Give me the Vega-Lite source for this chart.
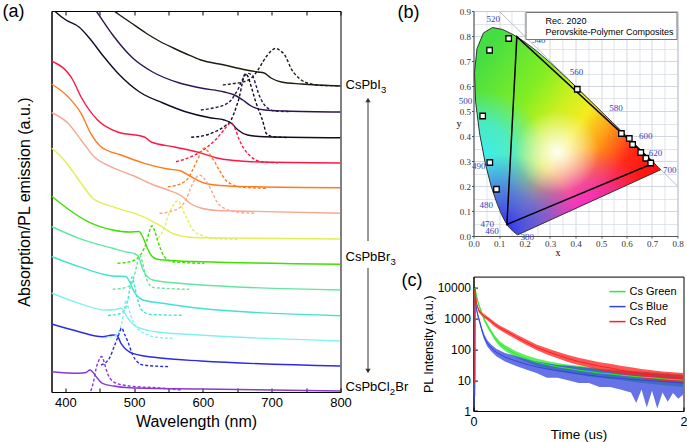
{
"$schema": "https://vega.github.io/schema/vega-lite/v6.json",
"padding": {"left": 1.5, "top": 2, "right": 0, "bottom": 0},
"background": "white",
"config": {
  "font": "Liberation Sans",
  "view": {"stroke": null},
  "axis": {"labelFont": "Liberation Sans", "titleFont": "Liberation Sans", "labelColor": "#000", "titleColor": "#000", "domainColor": "#000", "tickColor": "#000", "titleFontWeight": "normal", "grid": false, "labelOverlap": false, "labelFlush": false},
  "legend": {"labelFont": "Liberation Sans", "labelColor": "#000"},
  "text": {"font": "Liberation Sans", "color": "#000"}
},
"datasets": {
"abs": [
{"s":"C1","w":462,"v":386},{"s":"C1","w":471,"v":381},{"s":"C1","w":496,"v":369},{"s":"C1","w":517,"v":359},{"s":"C1","w":539,"v":350},{"s":"C1","w":557,"v":344},{"s":"C1","w":576,"v":338},{"s":"C1","w":597,"v":332},{"s":"C1","w":631,"v":327},{"s":"C1","w":663,"v":322},{"s":"C1","w":680,"v":320},{"s":"C1","w":689,"v":319},{"s":"C1","w":699,"v":314},{"s":"C1","w":714,"v":310},{"s":"C1","w":743,"v":308},{"s":"C1","w":800,"v":306},
{"s":"C2","w":438,"v":388},{"s":"C2","w":445,"v":381},{"s":"C2","w":469,"v":357},{"s":"C2","w":498,"v":334},{"s":"C2","w":527,"v":320},{"s":"C2","w":566,"v":309},{"s":"C2","w":597,"v":304},{"s":"C2","w":631,"v":300},{"s":"C2","w":646,"v":297},{"s":"C2","w":658,"v":292},{"s":"C2","w":670,"v":286},{"s":"C2","w":690,"v":282},{"s":"C2","w":720,"v":281},{"s":"C2","w":800,"v":280},
{"s":"C3","w":380,"v":384},{"s":"C3","w":386,"v":380},{"s":"C3","w":401,"v":372},{"s":"C3","w":420,"v":365},{"s":"C3","w":435,"v":354},{"s":"C3","w":454,"v":337},{"s":"C3","w":479,"v":317},{"s":"C3","w":508,"v":300},{"s":"C3","w":542,"v":289},{"s":"C3","w":576,"v":280},{"s":"C3","w":612,"v":274},{"s":"C3","w":631,"v":272},{"s":"C3","w":641,"v":269},{"s":"C3","w":651,"v":262},{"s":"C3","w":665,"v":257},{"s":"C3","w":690,"v":255.3},{"s":"C3","w":800,"v":254.3},
{"s":"C4","w":380,"v":331},{"s":"C4","w":411,"v":312},{"s":"C4","w":423,"v":295},{"s":"C4","w":447,"v":272},{"s":"C4","w":476,"v":260},{"s":"C4","w":515,"v":255},{"s":"C4","w":525,"v":250},{"s":"C4","w":559,"v":245},{"s":"C4","w":597,"v":239},{"s":"C4","w":620,"v":234},{"s":"C4","w":646,"v":231.5},{"s":"C4","w":670,"v":230.3},{"s":"C4","w":800,"v":229},
{"s":"C5","w":380,"v":308},{"s":"C5","w":404,"v":295.3},{"s":"C5","w":423,"v":278.7},{"s":"C5","w":437,"v":258.7},{"s":"C5","w":452,"v":245.3},{"s":"C5","w":481,"v":237},{"s":"C5","w":515,"v":228.7},{"s":"C5","w":549,"v":223},{"s":"C5","w":568,"v":221},{"s":"C5","w":583,"v":215.3},{"s":"C5","w":602,"v":209},{"s":"C5","w":625,"v":206.5},{"s":"C5","w":670,"v":205.3},{"s":"C5","w":800,"v":204.3},
{"s":"C6","w":380,"v":279.5},{"s":"C6","w":404,"v":268.7},{"s":"C6","w":423,"v":252},{"s":"C6","w":442,"v":235.3},{"s":"C6","w":466,"v":225.3},{"s":"C6","w":500,"v":216},{"s":"C6","w":525,"v":208},{"s":"C6","w":549,"v":202},{"s":"C6","w":568,"v":196.5},{"s":"C6","w":583,"v":188},{"s":"C6","w":597,"v":184},{"s":"C6","w":621,"v":181.5},{"s":"C6","w":646,"v":181},{"s":"C6","w":800,"v":178.7},
{"s":"C7","w":380,"v":244},{"s":"C7","w":396,"v":233.7},{"s":"C7","w":411,"v":220.3},{"s":"C7","w":425,"v":207},{"s":"C7","w":440,"v":193.7},{"s":"C7","w":469,"v":185.3},{"s":"C7","w":513,"v":175.3},{"s":"C7","w":532,"v":168.7},{"s":"C7","w":544,"v":163.7},{"s":"C7","w":556,"v":158.7},{"s":"C7","w":576,"v":155.3},{"s":"C7","w":597,"v":154.3},{"s":"C7","w":800,"v":153},
{"s":"C8","w":380,"v":196},{"s":"C8","w":406,"v":182},{"s":"C8","w":433,"v":170.3},{"s":"C8","w":469,"v":162},{"s":"C8","w":493,"v":160},{"s":"C8","w":507,"v":160.5},{"s":"C8","w":512,"v":156},{"s":"C8","w":518,"v":146},{"s":"C8","w":524,"v":137.5},{"s":"C8","w":534,"v":132.7},{"s":"C8","w":566,"v":131},{"s":"C8","w":597,"v":130.3},{"s":"C8","w":800,"v":127.7},
{"s":"C9","w":380,"v":165.5},{"s":"C9","w":420,"v":153.7},{"s":"C9","w":469,"v":143.7},{"s":"C9","w":491,"v":139.7},{"s":"C9","w":500,"v":138.5},{"s":"C9","w":506,"v":136},{"s":"C9","w":513,"v":122},{"s":"C9","w":527,"v":112},{"s":"C9","w":566,"v":108.7},{"s":"C9","w":583,"v":107.7},{"s":"C9","w":800,"v":102},
{"s":"C10","w":380,"v":135.5},{"s":"C10","w":420,"v":125.3},{"s":"C10","w":469,"v":116},{"s":"C10","w":488,"v":115.5},{"s":"C10","w":493,"v":111},{"s":"C10","w":500,"v":100.3},{"s":"C10","w":513,"v":92},{"s":"C10","w":542,"v":88.7},{"s":"C10","w":595,"v":83.7},{"s":"C10","w":800,"v":76.3},
{"s":"C11","w":380,"v":99},{"s":"C11","w":420,"v":88.7},{"s":"C11","w":459,"v":82},{"s":"C11","w":474,"v":82.5},{"s":"C11","w":481,"v":84},{"s":"C11","w":491,"v":73.7},{"s":"C11","w":503,"v":65.3},{"s":"C11","w":532,"v":60.3},{"s":"C11","w":595,"v":57},{"s":"C11","w":800,"v":51},
{"s":"C12","w":380,"v":68},{"s":"C12","w":420,"v":60.3},{"s":"C12","w":454,"v":55.3},{"s":"C12","w":469,"v":57},{"s":"C12","w":475,"v":56.5},{"s":"C12","w":481,"v":48.7},{"s":"C12","w":498,"v":38.7},{"s":"C12","w":542,"v":33.7},{"s":"C12","w":597,"v":31},{"s":"C12","w":800,"v":26},
{"s":"C13","w":380,"v":20.3},{"s":"C13","w":420,"v":18.7},{"s":"C13","w":430,"v":19.5},{"s":"C13","w":436,"v":22},{"s":"C13","w":441,"v":19},{"s":"C13","w":445,"v":15.3},{"s":"C13","w":454,"v":8.7},{"s":"C13","w":470,"v":6},{"s":"C13","w":493,"v":4.3},{"s":"C13","w":597,"v":3},{"s":"C13","w":800,"v":1}
],
"pl": [
{"s":"C1","w":629,"v":307},{"s":"C1","w":645,"v":308.5},{"s":"C1","w":660,"v":310.3},{"s":"C1","w":672,"v":315},{"s":"C1","w":680,"v":322},{"s":"C1","w":688,"v":331},{"s":"C1","w":694,"v":337},{"s":"C1","w":700,"v":341.5},{"s":"C1","w":706,"v":343.7},{"s":"C1","w":712,"v":341.5},{"s":"C1","w":719,"v":337},{"s":"C1","w":724,"v":330},{"s":"C1","w":728,"v":323.7},{"s":"C1","w":735,"v":317},{"s":"C1","w":743,"v":312},{"s":"C1","w":757,"v":308},{"s":"C1","w":775,"v":306.5},{"s":"C1","w":800,"v":306.3},
{"s":"C2","w":597,"v":282},{"s":"C2","w":615,"v":284},{"s":"C2","w":631,"v":287},{"s":"C2","w":640,"v":291},{"s":"C2","w":646,"v":297},{"s":"C2","w":652,"v":304},{"s":"C2","w":656,"v":310.3},{"s":"C2","w":661,"v":316.5},{"s":"C2","w":665,"v":318.7},{"s":"C2","w":669,"v":318},{"s":"C2","w":673,"v":315.3},{"s":"C2","w":677,"v":307},{"s":"C2","w":680,"v":300.3},{"s":"C2","w":685,"v":292},{"s":"C2","w":689.5,"v":287},{"s":"C2","w":696,"v":283},{"s":"C2","w":704,"v":281},{"s":"C2","w":728,"v":280.3},
{"s":"C3","w":583,"v":254.7},{"s":"C3","w":605,"v":257},{"s":"C3","w":620,"v":261},{"s":"C3","w":632,"v":266},{"s":"C3","w":641,"v":272},{"s":"C3","w":648,"v":284},{"s":"C3","w":653,"v":295},{"s":"C3","w":657,"v":308},{"s":"C3","w":661,"v":318},{"s":"C3","w":665,"v":316},{"s":"C3","w":670,"v":306},{"s":"C3","w":676,"v":292},{"s":"C3","w":681,"v":282},{"s":"C3","w":685,"v":275},{"s":"C3","w":689,"v":266},{"s":"C3","w":692,"v":258.7},{"s":"C3","w":700,"v":255.5},{"s":"C3","w":724,"v":254.5},
{"s":"C4","w":561,"v":230.3},{"s":"C4","w":583,"v":235.3},{"s":"C4","w":596,"v":240},{"s":"C4","w":607,"v":245.3},{"s":"C4","w":618,"v":252},{"s":"C4","w":626.5,"v":258.7},{"s":"C4","w":634,"v":265},{"s":"C4","w":641,"v":269.3},{"s":"C4","w":647,"v":263},{"s":"C4","w":653,"v":252},{"s":"C4","w":660,"v":243},{"s":"C4","w":670,"v":235.3},{"s":"C4","w":684.7,"v":230.3},{"s":"C4","w":709,"v":229.3},
{"s":"C5","w":549,"v":205.3},{"s":"C5","w":563,"v":207},{"s":"C5","w":573,"v":210.3},{"s":"C5","w":580,"v":215},{"s":"C5","w":585,"v":222},{"s":"C5","w":592,"v":232},{"s":"C5","w":597,"v":239},{"s":"C5","w":602,"v":244},{"s":"C5","w":607,"v":241},{"s":"C5","w":612,"v":235.5},{"s":"C5","w":617,"v":230.3},{"s":"C5","w":622,"v":224},{"s":"C5","w":626.5,"v":218.7},{"s":"C5","w":633,"v":212},{"s":"C5","w":641,"v":208},{"s":"C5","w":650,"v":205.5},{"s":"C5","w":660,"v":204.7},{"s":"C5","w":694,"v":203.7},
{"s":"C6","w":537,"v":178.7},{"s":"C6","w":555,"v":181},{"s":"C6","w":568,"v":185.3},{"s":"C6","w":576,"v":193},{"s":"C6","w":583,"v":205.3},{"s":"C6","w":589,"v":213},{"s":"C6","w":595,"v":217},{"s":"C6","w":601,"v":214},{"s":"C6","w":607,"v":208.7},{"s":"C6","w":614,"v":199},{"s":"C6","w":621.7,"v":188.7},{"s":"C6","w":628,"v":185},{"s":"C6","w":636,"v":182},{"s":"C6","w":650,"v":180},{"s":"C6","w":675,"v":178.7},
{"s":"C7","w":534.5,"v":153.7},{"s":"C7","w":541,"v":160},{"s":"C7","w":545,"v":166},{"s":"C7","w":549,"v":175.3},{"s":"C7","w":554,"v":183},{"s":"C7","w":559,"v":189},{"s":"C7","w":564,"v":191},{"s":"C7","w":569,"v":186},{"s":"C7","w":573,"v":178.7},{"s":"C7","w":578,"v":172},{"s":"C7","w":583,"v":165},{"s":"C7","w":588,"v":160.3},{"s":"C7","w":597,"v":157},{"s":"C7","w":612,"v":153.7},{"s":"C7","w":651,"v":152.7},
{"s":"C8","w":476,"v":128.7},{"s":"C8","w":495,"v":130.5},{"s":"C8","w":505,"v":134},{"s":"C8","w":512,"v":140},{"s":"C8","w":518,"v":150},{"s":"C8","w":522,"v":160},{"s":"C8","w":526,"v":166.3},{"s":"C8","w":530,"v":161},{"s":"C8","w":534,"v":152},{"s":"C8","w":538,"v":144},{"s":"C8","w":544,"v":135.3},{"s":"C8","w":556,"v":130.3},{"s":"C8","w":602,"v":128.7},
{"s":"C9","w":469,"v":102.7},{"s":"C9","w":488,"v":104.5},{"s":"C9","w":496,"v":108},{"s":"C9","w":501,"v":118},{"s":"C9","w":505,"v":130},{"s":"C9","w":508,"v":137},{"s":"C9","w":512,"v":130},{"s":"C9","w":516,"v":118},{"s":"C9","w":520,"v":110},{"s":"C9","w":528,"v":104.5},{"s":"C9","w":580,"v":102.7},
{"s":"C10","w":462,"v":76.5},{"s":"C10","w":478,"v":78},{"s":"C10","w":486,"v":82},{"s":"C10","w":491,"v":92},{"s":"C10","w":494,"v":104},{"s":"C10","w":497,"v":115},{"s":"C10","w":500,"v":108},{"s":"C10","w":504,"v":96},{"s":"C10","w":508,"v":86},{"s":"C10","w":514,"v":80},{"s":"C10","w":525,"v":77.5},{"s":"C10","w":571,"v":76.7},
{"s":"C11","w":457,"v":54.3},{"s":"C11","w":472,"v":56},{"s":"C11","w":479,"v":62},{"s":"C11","w":483,"v":72},{"s":"C11","w":486,"v":84},{"s":"C11","w":488,"v":92},{"s":"C11","w":491,"v":86},{"s":"C11","w":495,"v":77},{"s":"C11","w":500,"v":68.7},{"s":"C11","w":507,"v":62},{"s":"C11","w":515,"v":58.7},{"s":"C11","w":530,"v":55},{"s":"C11","w":556,"v":53.7},
{"s":"C12","w":452,"v":27},{"s":"C12","w":464,"v":33.7},{"s":"C12","w":471,"v":45.3},{"s":"C12","w":477,"v":56},{"s":"C12","w":482,"v":64},{"s":"C12","w":486,"v":58},{"s":"C12","w":491,"v":50.3},{"s":"C12","w":498,"v":37},{"s":"C12","w":505,"v":30},{"s":"C12","w":513,"v":27},{"s":"C12","w":551,"v":25.3},
{"s":"C13","w":437,"v":1},{"s":"C13","w":441,"v":10},{"s":"C13","w":445,"v":24},{"s":"C13","w":449,"v":32},{"s":"C13","w":453,"v":35.5},{"s":"C13","w":456,"v":31},{"s":"C13","w":459,"v":23.7},{"s":"C13","w":463,"v":16},{"s":"C13","w":467,"v":12},{"s":"C13","w":475,"v":8.5},{"s":"C13","w":484,"v":7},{"s":"C13","w":500,"v":5.5},{"s":"C13","w":532,"v":4.3},{"s":"C13","w":568,"v":2}
],
"cslabels": [
{"t":"CsPbI","v":307},{"t":"CsPbBr","v":135},{"t":"CsPbCl","v":5}
],
"locusArea": [
{"y":0.005,"xl":0.1741,"xr":0.1741},{"y":0.0109,"xl":0.1644,"xr":0.1868},{"y":0.0177,"xl":0.1566,"xr":0.2015},{"y":0.0297,"xl":0.144,"xr":0.2273},{"y":0.0399,"xl":0.1355,"xr":0.2493},{"y":0.0578,"xl":0.1241,"xr":0.2878},{"y":0.0868,"xl":0.1096,"xr":0.3503},{"y":0.1327,"xl":0.0913,"xr":0.4491},{"y":0.2007,"xl":0.0687,"xr":0.5956},{"y":0.2653,"xl":0.0527,"xr":0.7347},{"y":0.274,"xl":0.0506,"xr":0.726},{"y":0.292,"xl":0.0462,"xr":0.7079},{"y":0.295,"xl":0.0454,"xr":0.7049},{"y":0.3083,"xl":0.0429,"xr":0.6915},{"y":0.334,"xl":0.0381,"xr":0.6658},{"y":0.3725,"xl":0.031,"xr":0.627},{"y":0.4127,"xl":0.0235,"xr":0.5867},{"y":0.4242,"xl":0.0221,"xr":0.5752},{"y":0.4866,"xl":0.0145,"xr":0.5125},{"y":0.5384,"xl":0.0082,"xr":0.4604},{"y":0.5547,"xl":0.0076,"xr":0.4441},{"y":0.6245,"xl":0.005,"xr":0.3731},{"y":0.6548,"xl":0.0039,"xr":0.3411},{"y":0.6923,"xl":0.0078,"xr":0.3016},{"y":0.7502,"xl":0.0139,"xr":0.2344},{"y":0.7543,"xl":0.0156,"xr":0.2296},{"y":0.8059,"xl":0.0364,"xr":0.1547},{"y":0.812,"xl":0.0389,"xr":0.1425},{"y":0.8262,"xl":0.0619,"xr":0.1142},{"y":0.8338,"xl":0.0743,"xr":0.0743}
],
"locus": [
{"i":0,"x":0.1741,"y":0.005},{"i":1,"x":0.1733,"y":0.0048},{"i":2,"x":0.1714,"y":0.0051},{"i":3,"x":0.1644,"y":0.0109},{"i":4,"x":0.1566,"y":0.0177},{"i":5,"x":0.144,"y":0.0297},{"i":6,"x":0.1355,"y":0.0399},{"i":7,"x":0.1241,"y":0.0578},{"i":8,"x":0.1096,"y":0.0868},{"i":9,"x":0.0913,"y":0.1327},{"i":10,"x":0.0687,"y":0.2007},{"i":11,"x":0.0454,"y":0.295},{"i":12,"x":0.0235,"y":0.4127},{"i":13,"x":0.0082,"y":0.5384},{"i":14,"x":0.0039,"y":0.6548},{"i":15,"x":0.0139,"y":0.7502},{"i":16,"x":0.0389,"y":0.812},{"i":17,"x":0.0743,"y":0.8338},{"i":18,"x":0.1142,"y":0.8262},{"i":19,"x":0.1547,"y":0.8059},{"i":20,"x":0.1929,"y":0.7816},{"i":21,"x":0.2296,"y":0.7543},{"i":22,"x":0.2658,"y":0.7243},{"i":23,"x":0.3016,"y":0.6923},{"i":24,"x":0.3373,"y":0.6589},{"i":25,"x":0.3731,"y":0.6245},{"i":26,"x":0.4087,"y":0.5896},{"i":27,"x":0.4441,"y":0.5547},{"i":28,"x":0.4788,"y":0.5202},{"i":29,"x":0.5125,"y":0.4866},{"i":30,"x":0.5448,"y":0.4544},{"i":31,"x":0.5752,"y":0.4242},{"i":32,"x":0.6029,"y":0.3965},{"i":33,"x":0.627,"y":0.3725},{"i":34,"x":0.6658,"y":0.334},{"i":35,"x":0.6915,"y":0.3083},{"i":36,"x":0.7079,"y":0.292},{"i":37,"x":0.719,"y":0.2809},{"i":38,"x":0.726,"y":0.274},{"i":39,"x":0.7334,"y":0.2666},{"i":40,"x":0.7347,"y":0.2653},{"i":41,"x":0.1741,"y":0.005}
],
"rec2020": [
{"i":0,"x":0.708,"y":0.292},{"i":1,"x":0.17,"y":0.797},{"i":2,"x":0.131,"y":0.046},{"i":3,"x":0.708,"y":0.292}
],
"perov": [
{"k":"Perovskite-Polymer Composites","x":0.138,"y":0.79},{"k":"Perovskite-Polymer Composites","x":0.063,"y":0.743},{"k":"Perovskite-Polymer Composites","x":0.036,"y":0.48},{"k":"Perovskite-Polymer Composites","x":0.064,"y":0.294},{"k":"Perovskite-Polymer Composites","x":0.09,"y":0.187},{"k":"Perovskite-Polymer Composites","x":0.407,"y":0.587},{"k":"Perovskite-Polymer Composites","x":0.58,"y":0.41},{"k":"Perovskite-Polymer Composites","x":0.611,"y":0.39},{"k":"Perovskite-Polymer Composites","x":0.624,"y":0.366},{"k":"Perovskite-Polymer Composites","x":0.656,"y":0.334},{"k":"Perovskite-Polymer Composites","x":0.676,"y":0.311},{"k":"Perovskite-Polymer Composites","x":0.695,"y":0.292}
],
"wl": [
{"t":"520","x":0.077,"y":0.867},{"t":"540","x":0.256,"y":0.784},{"t":"560","x":0.404,"y":0.656},{"t":"580","x":0.559,"y":0.513},{"t":"600","x":0.675,"y":0.4},{"t":"620","x":0.714,"y":0.334},{"t":"700","x":0.77,"y":0.264},{"t":"500","x":-0.031,"y":0.54},{"t":"490","x":0.021,"y":0.28},{"t":"480","x":0.05,"y":0.124},{"t":"470","x":0.054,"y":0.05},{"t":"460","x":0.073,"y":0.02},{"t":"380","x":0.211,"y":-0.002}
],
"decay": [
{"s":"Cs Green","t":0,"v":5,"lo":3,"hi":8},{"s":"Cs Green","t":0.012,"v":5,"lo":3,"hi":9},{"s":"Cs Green","t":0.014,"v":9500,"lo":8500,"hi":10500},{"s":"Cs Green","t":0.02,"v":7500,"lo":6500,"hi":8500},{"s":"Cs Green","t":0.03,"v":5000,"lo":4300,"hi":5800},{"s":"Cs Green","t":0.05,"v":2800,"lo":2400,"hi":3200},{"s":"Cs Green","t":0.075,"v":1600,"lo":1400,"hi":1850},{"s":"Cs Green","t":0.1,"v":950,"lo":820,"hi":1100},{"s":"Cs Green","t":0.125,"v":650,"lo":560,"hi":760},{"s":"Cs Green","t":0.15,"v":460,"lo":390,"hi":540},{"s":"Cs Green","t":0.2,"v":240,"lo":200,"hi":290},{"s":"Cs Green","t":0.25,"v":150,"lo":122,"hi":182},{"s":"Cs Green","t":0.3,"v":112,"lo":90,"hi":138},{"s":"Cs Green","t":0.35,"v":88,"lo":70,"hi":110},{"s":"Cs Green","t":0.4,"v":70,"lo":55,"hi":88},{"s":"Cs Green","t":0.5,"v":50,"lo":39,"hi":64},{"s":"Cs Green","t":0.6,"v":38,"lo":29,"hi":50},{"s":"Cs Green","t":0.7,"v":32,"lo":24,"hi":42},{"s":"Cs Green","t":0.8,"v":27,"lo":20,"hi":36},{"s":"Cs Green","t":0.9,"v":24,"lo":17,"hi":32},{"s":"Cs Green","t":1.0,"v":21,"lo":15,"hi":29},{"s":"Cs Green","t":1.1,"v":19,"lo":13,"hi":27},{"s":"Cs Green","t":1.2,"v":17,"lo":12,"hi":24},{"s":"Cs Green","t":1.3,"v":16,"lo":11,"hi":23},{"s":"Cs Green","t":1.4,"v":14.5,"lo":10,"hi":21},{"s":"Cs Green","t":1.5,"v":13.5,"lo":9,"hi":20},{"s":"Cs Green","t":1.6,"v":12.5,"lo":8,"hi":19},{"s":"Cs Green","t":1.7,"v":12,"lo":7.5,"hi":18},{"s":"Cs Green","t":1.8,"v":11,"lo":7,"hi":17},{"s":"Cs Green","t":1.9,"v":10.5,"lo":6.5,"hi":16},{"s":"Cs Green","t":2.0,"v":10,"lo":6,"hi":15},
{"s":"Cs Blue","t":0,"v":3,"lo":1.5,"hi":5},{"s":"Cs Blue","t":0.012,"v":3,"lo":1.5,"hi":5},{"s":"Cs Blue","t":0.014,"v":5000,"lo":4000,"hi":6000},{"s":"Cs Blue","t":0.02,"v":3200,"lo":2700,"hi":3800},{"s":"Cs Blue","t":0.03,"v":1900,"lo":1600,"hi":2250},{"s":"Cs Blue","t":0.04,"v":1300,"lo":1100,"hi":1550},{"s":"Cs Blue","t":0.06,"v":750,"lo":620,"hi":900},{"s":"Cs Blue","t":0.08,"v":420,"lo":340,"hi":510},{"s":"Cs Blue","t":0.1,"v":260,"lo":210,"hi":320},{"s":"Cs Blue","t":0.13,"v":160,"lo":125,"hi":200},{"s":"Cs Blue","t":0.17,"v":110,"lo":85,"hi":140},{"s":"Cs Blue","t":0.22,"v":78,"lo":58,"hi":102},{"s":"Cs Blue","t":0.3,"v":56,"lo":40,"hi":76},{"s":"Cs Blue","t":0.4,"v":42,"lo":29,"hi":60},{"s":"Cs Blue","t":0.5,"v":33,"lo":22,"hi":48},{"s":"Cs Blue","t":0.6,"v":27,"lo":17,"hi":40},{"s":"Cs Blue","t":0.7,"v":23,"lo":12,"hi":35},{"s":"Cs Blue","t":0.8,"v":20,"lo":12,"hi":31},{"s":"Cs Blue","t":0.9,"v":18,"lo":10,"hi":29},{"s":"Cs Blue","t":1.0,"v":16,"lo":8,"hi":27},{"s":"Cs Blue","t":1.1,"v":14.5,"lo":8,"hi":25},{"s":"Cs Blue","t":1.2,"v":13,"lo":6,"hi":23},{"s":"Cs Blue","t":1.3,"v":12,"lo":6,"hi":21},{"s":"Cs Blue","t":1.4,"v":11.5,"lo":5,"hi":20},{"s":"Cs Blue","t":1.5,"v":10.5,"lo":4,"hi":19},{"s":"Cs Blue","t":1.55,"v":10.3,"lo":1.8,"hi":19},{"s":"Cs Blue","t":1.6,"v":10,"lo":5,"hi":18},{"s":"Cs Blue","t":1.65,"v":9.8,"lo":1.3,"hi":18},{"s":"Cs Blue","t":1.7,"v":9.5,"lo":4.5,"hi":17},{"s":"Cs Blue","t":1.75,"v":9.3,"lo":1.2,"hi":17},{"s":"Cs Blue","t":1.8,"v":9,"lo":4,"hi":16},{"s":"Cs Blue","t":1.85,"v":8.8,"lo":2,"hi":16},{"s":"Cs Blue","t":1.9,"v":8.5,"lo":3.8,"hi":15},{"s":"Cs Blue","t":1.95,"v":8.3,"lo":2.5,"hi":15},{"s":"Cs Blue","t":2.0,"v":8,"lo":3.5,"hi":14},
{"s":"Cs Red","t":0,"v":8,"lo":4,"hi":14},{"s":"Cs Red","t":0.012,"v":8,"lo":4,"hi":14},{"s":"Cs Red","t":0.014,"v":9000,"lo":8000,"hi":10000},{"s":"Cs Red","t":0.02,"v":5500,"lo":4800,"hi":6300},{"s":"Cs Red","t":0.03,"v":3000,"lo":2600,"hi":3400},{"s":"Cs Red","t":0.05,"v":1800,"lo":1550,"hi":2050},{"s":"Cs Red","t":0.075,"v":1450,"lo":1250,"hi":1650},{"s":"Cs Red","t":0.1,"v":1200,"lo":1040,"hi":1380},{"s":"Cs Red","t":0.15,"v":900,"lo":780,"hi":1040},{"s":"Cs Red","t":0.2,"v":650,"lo":550,"hi":760},{"s":"Cs Red","t":0.25,"v":500,"lo":420,"hi":590},{"s":"Cs Red","t":0.3,"v":400,"lo":335,"hi":480},{"s":"Cs Red","t":0.4,"v":260,"lo":215,"hi":315},{"s":"Cs Red","t":0.5,"v":170,"lo":140,"hi":210},{"s":"Cs Red","t":0.6,"v":115,"lo":94,"hi":142},{"s":"Cs Red","t":0.7,"v":85,"lo":68,"hi":107},{"s":"Cs Red","t":0.8,"v":65,"lo":51,"hi":83},{"s":"Cs Red","t":0.9,"v":50,"lo":39,"hi":65},{"s":"Cs Red","t":1.0,"v":40,"lo":31,"hi":53},{"s":"Cs Red","t":1.1,"v":34,"lo":26,"hi":45},{"s":"Cs Red","t":1.2,"v":28,"lo":21,"hi":38},{"s":"Cs Red","t":1.3,"v":25,"lo":18.5,"hi":34},{"s":"Cs Red","t":1.4,"v":21,"lo":15.5,"hi":29},{"s":"Cs Red","t":1.5,"v":18.5,"lo":13.5,"hi":26},{"s":"Cs Red","t":1.6,"v":16,"lo":11.5,"hi":23},{"s":"Cs Red","t":1.7,"v":14.5,"lo":10.5,"hi":21},{"s":"Cs Red","t":1.8,"v":13,"lo":9,"hi":19},{"s":"Cs Red","t":1.9,"v":12,"lo":8.5,"hi":18},{"s":"Cs Red","t":2.0,"v":11,"lo":7.5,"hi":17}
]
},
"spacing": 133,
"bounds": "flush",
"resolve": {"scale": {"color": "independent", "fill": "independent", "shape": "independent", "size": "independent"}, "legend": {"color": "independent", "fill": "independent", "shape": "independent", "size": "independent"}},
"hconcat": [
{
  "width": 289, "height": 381,
  "view": {"stroke": "#000", "strokeWidth": 1},
  "resolve": {"axis": {"x": "independent"}},
  "layer": [
    {"data": {"name": "abs"},
     "mark": {"type": "line", "strokeWidth": 1.4, "interpolate": "monotone", "clip": true},
     "encoding": {
       "x": {"field": "w", "type": "quantitative", "scale": {"domain": [380, 800], "nice": false, "zero": false},
             "axis": {"orient": "bottom", "values": [400,450,500,550,600,650,700,750,800], "labelExpr": "datum.value % 100 == 0 ? datum.label : ''", "labelOverlap": false, "tickSize": -4, "labelPadding": 8, "labelFontSize": 13, "title": "Wavelength (nm)", "titleFontSize": 16, "titlePadding": 4}},
       "y": {"field": "v", "type": "quantitative", "scale": {"domain": [0, 381], "nice": false, "zero": false},
             "axis": {"labels": false, "ticks": false, "title": "Absorption/PL emission (a.u.)", "titleFontSize": 16, "titlePadding": 19}},
       "color": {"field": "s", "type": "nominal",
                 "scale": {"domain": ["C1","C2","C3","C4","C5","C6","C7","C8","C9","C10","C11","C12","C13"],
                           "range": ["#1c1c10","#2d1450","#150a25","#ff1744","#ff7a1c","#f6a792","#e4ee50","#3ee000","#62e6a2","#42e4cf","#84f0ee","#2a2ae8","#8a38d8"]},
                 "legend": null}
     }},
    {"data": {"name": "pl"},
     "mark": {"type": "line", "strokeWidth": 1.4, "strokeDash": [3, 2], "interpolate": "monotone", "clip": true},
     "encoding": {
       "x": {"field": "w", "type": "quantitative", "axis": {"orient": "top", "values": [400,450,500,550,600,650,700,750,800], "labels": false, "tickSize": -4, "title": null, "domain": false}},
       "y": {"field": "v", "type": "quantitative"},
       "color": {"field": "s", "type": "nominal", "legend": null}
     }},
    {"data": {"name": "cslabels"},
     "mark": {"type": "text", "align": "left", "baseline": "middle", "dx": 5, "fontSize": 13},
     "encoding": {"x": {"datum": 800, "type": "quantitative", "axis": null}, "y": {"field": "v", "type": "quantitative"}, "text": {"field": "t"}}},
    {"data": {"values": [{}]},
     "mark": {"type": "text", "align": "left", "baseline": "middle", "dx": 40.5, "dy": 5, "fontSize": 9.5, "text": "3"},
     "encoding": {"x": {"datum": 800, "type": "quantitative", "axis": null}, "y": {"datum": 307, "type": "quantitative"}}},
    {"data": {"values": [{}]},
     "mark": {"type": "text", "align": "left", "baseline": "middle", "dx": 50, "dy": 5, "fontSize": 9.5, "text": "3"},
     "encoding": {"x": {"datum": 800, "type": "quantitative", "axis": null}, "y": {"datum": 135, "type": "quantitative"}}},
    {"data": {"values": [{}]},
     "mark": {"type": "text", "align": "left", "baseline": "middle", "dx": 49.3, "dy": 5, "fontSize": 9.5, "text": "2"},
     "encoding": {"x": {"datum": 800, "type": "quantitative", "axis": null}, "y": {"datum": 5, "type": "quantitative"}}},
    {"data": {"values": [{}]},
     "mark": {"type": "text", "align": "left", "baseline": "middle", "dx": 54.8, "fontSize": 13, "text": "Br"},
     "encoding": {"x": {"datum": 800, "type": "quantitative", "axis": null}, "y": {"datum": 5, "type": "quantitative"}}},
    {"data": {"values": [{}]},
     "mark": {"type": "rule", "xOffset": 27.5, "color": "#333", "strokeWidth": 1},
     "encoding": {"x": {"datum": 800, "type": "quantitative", "axis": null}, "y": {"datum": 151, "type": "quantitative"}, "y2": {"datum": 291}}},
    {"data": {"values": [{}]},
     "mark": {"type": "rule", "xOffset": 27.5, "color": "#333", "strokeWidth": 1},
     "encoding": {"x": {"datum": 800, "type": "quantitative", "axis": null}, "y": {"datum": 124, "type": "quantitative"}, "y2": {"datum": 23}}},
    {"data": {"values": [{}]},
     "mark": {"type": "point", "shape": "triangle-up", "filled": true, "size": 28, "xOffset": 27.5, "color": "#333", "opacity": 1},
     "encoding": {"x": {"datum": 800, "type": "quantitative", "axis": null}, "y": {"datum": 292, "type": "quantitative"}}},
    {"data": {"values": [{}]},
     "mark": {"type": "point", "shape": "triangle-down", "filled": true, "size": 28, "xOffset": 27.5, "color": "#333", "opacity": 1},
     "encoding": {"x": {"datum": 800, "type": "quantitative", "axis": null}, "y": {"datum": 21, "type": "quantitative"}}},
    {"data": {"values": [{}]},
     "mark": {"type": "text", "align": "left", "baseline": "middle", "dx": -49, "dy": 0.5, "fontSize": 18, "text": "(a)"},
     "encoding": {"x": {"datum": 380, "type": "quantitative", "axis": null}, "y": {"datum": 381, "type": "quantitative"}}}
  ]
},
{
  "spacing": 40.6,
  "bounds": "flush",
  "resolve": {"scale": {"color": "independent", "fill": "independent", "shape": "independent", "size": "independent"}, "legend": {"color": "independent", "fill": "independent", "shape": "independent", "size": "independent"}},
  "vconcat": [
    {
      "width": 204, "height": 225,
      "view": {"stroke": "#b5bdc9"},
      "resolve": {"axis": {"x": "independent", "y": "independent"}},
      "layer": [
        {"data": {"name": "locusArea"},
         "mark": {"type": "area", "orient": "horizontal", "fill": {"gradient": "linear", "x1": 0.1, "y1": 0.05, "x2": 0.95, "y2": 0.7, "stops": [{"offset": 0, "color": "#44dd44"}, {"offset": 0.3, "color": "#84ee22"}, {"offset": 0.45, "color": "#c8f020"}, {"offset": 0.58, "color": "#f4ec20"}, {"offset": 0.72, "color": "#ff9418"}, {"offset": 0.86, "color": "#ff2a18"}, {"offset": 1, "color": "#ff1010"}]}},
         "encoding": {
           "y": {"field": "y", "type": "quantitative", "scale": {"domain": [0, 0.9], "nice": false, "zero": false},
                 "axis": {"orient": "left", "values": [0.05,0.15,0.25,0.35,0.45,0.55,0.65,0.75,0.85], "labels": false, "ticks": false, "domain": false, "grid": true, "gridColor": "#d3d9e3", "gridWidth": 0.7, "title": null}},
           "x": {"field": "xl", "type": "quantitative", "scale": {"domain": [0, 0.8], "nice": false, "zero": false},
                 "axis": {"orient": "bottom", "values": [0.05,0.15,0.25,0.35,0.45,0.55,0.65,0.75], "labels": false, "ticks": false, "domain": false, "grid": true, "gridColor": "#d3d9e3", "gridWidth": 0.7, "title": null}},
           "x2": {"field": "xr"}
         }},
        {"data": {"name": "locusArea"},
         "mark": {"type": "area", "orient": "horizontal", "fill": {"gradient": "radial", "x1": 0.08, "y1": 0.62, "r1": 0, "x2": 0.08, "y2": 0.62, "r2": 0.32, "stops": [{"offset": 0, "color": "rgba(60,238,242,1)"}, {"offset": 0.5, "color": "rgba(60,235,240,0.75)"}, {"offset": 1, "color": "rgba(60,235,240,0)"}]}},
         "encoding": {
           "y": {"field": "y", "type": "quantitative",
                 "axis": {"orient": "left", "values": [0,0.1,0.2,0.3,0.4,0.5,0.6,0.7,0.8,0.9], "format": ".1f", "labelOverlap": false, "grid": true, "gridColor": "#c6cedb", "gridWidth": 0.8, "tickSize": 2, "labelFont": "Liberation Serif", "labelFontSize": 9, "labelColor": "#333", "labelPadding": 1, "domainColor": "#555", "tickColor": "#555", "title": "y", "titleFont": "Liberation Serif", "titleFontSize": 10, "titleAngle": 0, "titleX": -15, "titleY": 112, "titleBaseline": "middle", "titleAlign": "center"}},
           "x": {"field": "xl", "type": "quantitative",
                 "axis": {"orient": "bottom", "values": [0,0.1,0.2,0.3,0.4,0.5,0.6,0.7,0.8], "format": ".1f", "labelOverlap": false, "grid": true, "gridColor": "#c6cedb", "gridWidth": 0.8, "tickSize": 2, "labelFont": "Liberation Serif", "labelFontSize": 9, "labelColor": "#333", "labelPadding": 1, "domainColor": "#555", "tickColor": "#555", "title": "x", "titleFont": "Liberation Serif", "titleFontSize": 10, "titlePadding": -1, "titleX": 84}},
           "x2": {"field": "xr"}}},
        {"data": {"name": "locusArea"},
         "mark": {"type": "area", "orient": "horizontal", "fill": {"gradient": "radial", "x1": 0.58, "y1": 0.9, "r1": 0, "x2": 0.58, "y2": 0.9, "r2": 0.32, "stops": [{"offset": 0, "color": "rgba(245,40,225,0.95)"}, {"offset": 0.5, "color": "rgba(235,50,225,0.6)"}, {"offset": 1, "color": "rgba(235,50,225,0)"}]}},
         "encoding": {"y": {"field": "y", "type": "quantitative", "axis": null}, "x": {"field": "xl", "type": "quantitative", "axis": null}, "x2": {"field": "xr"}}},
        {"data": {"name": "locusArea"},
         "mark": {"type": "area", "orient": "horizontal", "fill": {"gradient": "radial", "x1": 0.19, "y1": 0.97, "r1": 0, "x2": 0.19, "y2": 0.97, "r2": 0.36, "stops": [{"offset": 0, "color": "rgba(40,40,255,1)"}, {"offset": 0.5, "color": "rgba(60,80,255,0.7)"}, {"offset": 1, "color": "rgba(60,80,255,0)"}]}},
         "encoding": {"y": {"field": "y", "type": "quantitative", "axis": null}, "x": {"field": "xl", "type": "quantitative", "axis": null}, "x2": {"field": "xr"}}},
        {"data": {"name": "locusArea"},
         "mark": {"type": "area", "orient": "horizontal", "fill": {"gradient": "radial", "x1": 0.45, "y1": 0.6, "r1": 0, "x2": 0.45, "y2": 0.6, "r2": 0.2, "stops": [{"offset": 0, "color": "rgba(255,255,255,0.95)"}, {"offset": 1, "color": "rgba(255,255,255,0)"}]}},
         "encoding": {"y": {"field": "y", "type": "quantitative", "axis": null}, "x": {"field": "xl", "type": "quantitative", "axis": null}, "x2": {"field": "xr"}}},
        {"data": {"values": [{}]},
         "mark": {"type": "rule", "color": "#b8bec8", "strokeWidth": 1},
         "encoding": {"x": {"datum": 0.1, "type": "quantitative", "axis": null}, "y": {"datum": 0.9, "type": "quantitative", "axis": null}, "x2": {"datum": 0.8}, "y2": {"datum": 0.2}}},
        {"data": {"name": "locus"},
         "mark": {"type": "line", "color": "#333", "strokeWidth": 1},
         "encoding": {"x": {"field": "x", "type": "quantitative", "axis": null}, "y": {"field": "y", "type": "quantitative", "axis": null}, "order": {"field": "i", "type": "quantitative"}}},
        {"data": {"name": "rec2020"},
         "mark": {"type": "line", "color": "#000", "strokeWidth": 1.5},
         "encoding": {"x": {"field": "x", "type": "quantitative", "axis": null}, "y": {"field": "y", "type": "quantitative", "axis": null}, "order": {"field": "i", "type": "quantitative"}}},
        {"data": {"name": "perov"},
         "mark": {"type": "point", "filled": true, "fill": "#fff", "stroke": "#000", "strokeWidth": 1.3, "opacity": 1},
         "encoding": {
           "x": {"field": "x", "type": "quantitative", "axis": null}, "y": {"field": "y", "type": "quantitative", "axis": null},
           "shape": {"field": "k", "type": "nominal", "scale": {"domain": ["Rec. 2020", "Perovskite-Polymer Composites"], "range": ["stroke", "square"]},
                     "legend": {"orient": "top-right", "title": null, "offset": 1, "fillColor": "#fff", "strokeColor": "#777", "padding": 2, "labelFontSize": 9, "rowPadding": 0, "labelOffset": 4, "symbolStrokeColor": "#000", "symbolFillColor": "#fff", "symbolStrokeWidth": 1.3}},
           "size": {"field": "k", "type": "nominal", "scale": {"domain": ["Rec. 2020", "Perovskite-Polymer Composites"], "range": [160, 30]},
                    "legend": {"orient": "top-right", "title": null, "offset": 1, "fillColor": "#fff", "strokeColor": "#777", "padding": 2, "labelFontSize": 9, "rowPadding": 0, "labelOffset": 4, "symbolStrokeColor": "#000", "symbolFillColor": "#fff", "symbolStrokeWidth": 1.3}}
         }},
        {"data": {"name": "wl"},
         "mark": {"type": "text", "font": "Liberation Serif", "fontSize": 9, "color": "#3344c0", "align": "center", "baseline": "middle"},
         "encoding": {"x": {"field": "x", "type": "quantitative", "axis": null}, "y": {"field": "y", "type": "quantitative", "axis": null}, "text": {"field": "t"}}},
        {"data": {"values": [{}]},
         "mark": {"type": "text", "align": "left", "baseline": "middle", "dx": -76, "dy": 1.5, "fontSize": 18, "text": "(b)"},
         "encoding": {"x": {"datum": 0, "type": "quantitative", "axis": null}, "y": {"datum": 0.9, "type": "quantitative", "axis": null}}}
      ]
    },
    {
      "width": 210, "height": 134.4,
      "view": {"stroke": "#000"},
      "layer": [
        {"data": {"name": "decay"},
         "mark": {"type": "area", "opacity": 0.75, "clip": true},
         "encoding": {
           "x": {"field": "t", "type": "quantitative", "scale": {"domain": [0, 2], "nice": false, "zero": false},
                 "axis": {"values": [0, 0.5, 1, 1.5, 2], "format": "d", "labelExpr": "datum.value % 1 == 0 ? datum.label : ''", "labelOverlap": false, "tickSize": -4, "labelPadding": 8, "labelFontSize": 12.5, "title": "Time (us)", "titleFontSize": 13.5, "titlePadding": 0}},
           "y": {"field": "lo", "type": "quantitative", "scale": {"type": "log", "domain": [1, 22600], "nice": false},
                 "axis": {"values": [1, 10, 100, 1000, 10000], "format": "d", "labelOverlap": false, "tickSize": -4, "labelPadding": 7, "labelFontSize": 12, "title": "PL Intensity (a.u.)", "titleFontSize": 12.5, "titlePadding": 2}},
           "y2": {"field": "hi"},
           "color": {"field": "s", "type": "nominal", "scale": {"domain": ["Cs Green", "Cs Blue", "Cs Red"], "range": ["#2ee82e", "#3344dd", "#ff1f1f"]},
                     "legend": {"orient": "top-right", "title": null, "symbolType": "stroke", "symbolStrokeWidth": 1.5, "symbolSize": 260, "symbolOpacity": 1, "labelFontSize": 11, "rowPadding": 1, "offset": 4, "labelOffset": 3, "padding": 2}}
         }},
        {"data": {"name": "decay"},
         "mark": {"type": "line", "strokeWidth": 1, "clip": true},
         "encoding": {
           "x": {"field": "t", "type": "quantitative"},
           "y": {"field": "v", "type": "quantitative"},
           "color": {"field": "s", "type": "nominal",
                     "legend": {"orient": "top-right", "title": null, "symbolType": "stroke", "symbolStrokeWidth": 1.5, "symbolSize": 260, "symbolOpacity": 1, "labelFontSize": 11, "rowPadding": 1, "offset": 4, "labelOffset": 3, "padding": 2}}
         }},
        {"data": {"values": [{}]},
         "mark": {"type": "text", "align": "left", "baseline": "middle", "dx": -72, "dy": 4, "fontSize": 18, "text": "(c)"},
         "encoding": {"x": {"datum": 0, "type": "quantitative"}, "y": {"datum": 22600, "type": "quantitative"}}}
      ]
    }
  ]
}
]
}
